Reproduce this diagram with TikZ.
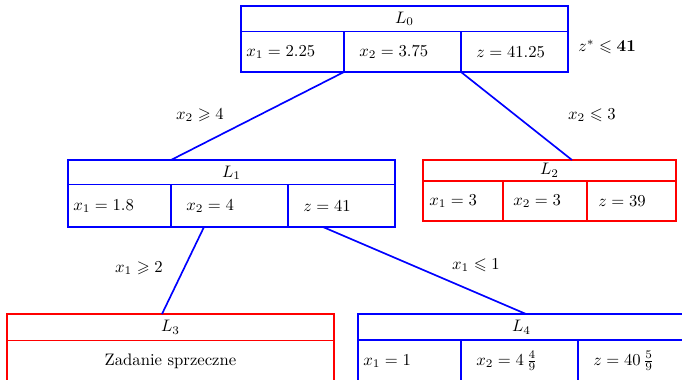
\documentclass[tikz,border=0pt]{standalone}
\usepackage{amsmath,amssymb}
\usetikzlibrary{calc}
\begin{document}
\begin{tikzpicture}[x=0.6pt,y=-0.6pt,
  bx/.style={draw=#1, line width=1pt, rectangle, inner sep=0pt, outer sep=0pt, anchor=north west},
  wide/.style={minimum width=196.2pt},
  txt/.style={inner sep=0pt, anchor=west},
  hd/.style={inner sep=0pt},
  conn/.style={draw=blue, line width=1pt},
  lbl/.style={inner sep=0pt}]
\useasboundingbox (0,0) rectangle (682,380);
\clip (0,0) rectangle (682,380);

% L0
\node[bx=blue, wide, minimum height=39.6pt] (L0) at (241,6) {};
\draw[blue, line width=1pt] (241,31.5) -- (568,31.5) (344,31.5) -- (344,72) (461,31.5) -- (461,72);
\node[hd] (L0h) at (404.5,19) {$L_0$};
\node[txt] (L0a) at (246,52) {$x_1 = 2.25$};
\node[txt] (L0b) at (359,52) {$x_2 = 3.75$};
\node[txt] (L0c) at (476,52) {$z = 41.25$};
\node[txt] (zs) at (578,47) {$z^* \leqslant \mathbf{41}$};

% L1
\node[bx=blue, wide, minimum height=40.2pt] (L1) at (68,160) {};
\draw[blue, line width=1pt] (68,184.5) -- (395,184.5) (171,184.5) -- (171,227) (288,184.5) -- (288,227);
\node[hd] (L1h) at (231.5,173) {$L_1$};
\node[txt] (L1a) at (73,206) {$x_1 = 1.8$};
\node[txt] (L1b) at (186,206) {$x_2 = 4$};
\node[txt] (L1c) at (303,206) {$z = 41$};

% L2
\node[bx=red, minimum width=151.8pt, minimum height=36.6pt] (L2) at (423,160) {};
\draw[red, line width=1pt] (423,181) -- (676,181) (503,181) -- (503,221) (587,181) -- (587,221);
\node[hd] (L2h) at (549.5,170.5) {$L_2$};
\node[txt] (L2a) at (429,201) {$x_1 = 3$};
\node[txt] (L2b) at (513,201) {$x_2 = 3$};
\node[txt] (L2c) at (598,201) {$z = 39$};

% L3
\node[bx=red, wide, minimum height=40.8pt] (L3) at (7,314) {};
\draw[red, line width=1pt] (7,340.5) -- (334,340.5);
\node[hd] (L3h) at (170.5,327.5) {$L_3$};
\node[hd] (L3a) at (170.5,361) {Zadanie sprzeczne};

% L4
\node[bx=blue, wide, minimum height=40.8pt] (L4) at (358,314) {};
\draw[blue, line width=1pt] (358,340) -- (685,340) (461,340) -- (461,382) (578,340) -- (578,382);
\node[hd] (L4h) at (521.5,327.5) {$L_4$};
\node[txt] (L4a) at (363,361) {$x_1 = 1$};
\node[txt] (L4b) at (476,361) {$x_2 = 4\,\frac{4}{9}$};
\node[txt] (L4c) at (593,361) {$z = 40\,\frac{5}{9}$};

% connectors
\draw[conn] ($(L0.south west)+(103,0)$) -- ($(L1.north west)+(103,0)$);
\draw[conn] ($(L0.south west)+(220,0)$) -- ($(L2.north west)+(149,0)$);
\draw[conn] ($(L1.south west)+(136,0)$) -- ($(L3.north west)+(155,0)$);
\draw[conn] ($(L1.south west)+(255,0)$) -- ($(L4.north west)+(168,0)$);

% labels
\node[lbl] (c1) at (200,115) {$x_2 \geqslant 4$};
\node[lbl] (c2) at (592,115) {$x_2 \leqslant 3$};
\node[lbl] (c3) at (139,268) {$x_1 \geqslant 2$};
\node[lbl] (c4) at (476,265) {$x_1 \leqslant 1$};
\end{tikzpicture}
\end{document}
